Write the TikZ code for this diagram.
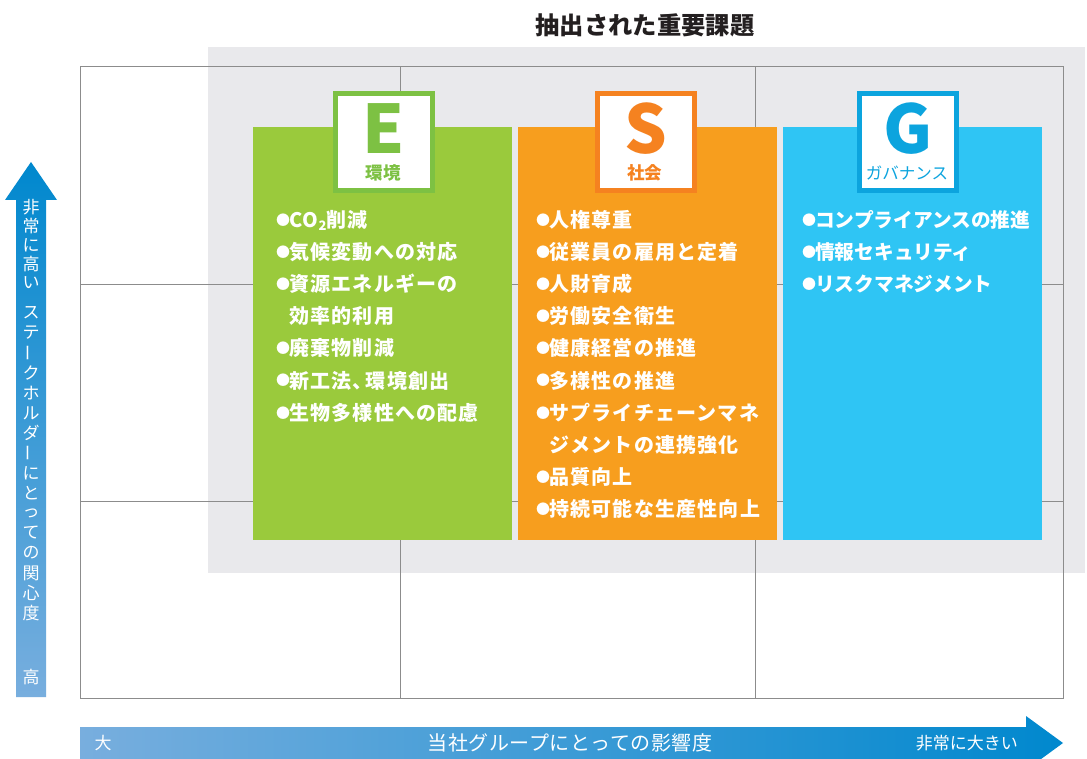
\documentclass[tikz,border=0pt]{standalone}
\usepackage{fontspec}
\setmainfont{Noto Sans CJK JP}
\newfontfamily\listf{Noto Sans CJK JP}[LetterSpace=6]
\newfontfamily\listg{Noto Sans CJK JP}
\newfontfamily\midf{Noto Sans CJK JP}[LetterSpace=3]
\definecolor{egreen}{HTML}{9ACA3C}
\definecolor{egreenb}{HTML}{7DC143}
\definecolor{sorange}{HTML}{F79E1E}
\definecolor{sorangeb}{HTML}{F58220}
\definecolor{gblue}{HTML}{2FC5F4}
\definecolor{gblueb}{HTML}{0CA4DE}
\definecolor{bggray}{HTML}{E9E9EC}
\definecolor{gridgray}{HTML}{8C8C8C}
\definecolor{arrdark}{HTML}{0088CE}
\definecolor{arrlight}{HTML}{78AEDE}
\definecolor{titlec}{HTML}{231F20}
\newcommand\bul{\makebox[12pt][c]{\fontsize{14}{14}\selectfont\raisebox{2pt}{●}}}
\newcommand\cont{\hspace*{12pt}}
\tikzset{
  panel/.style={inner sep=0pt, minimum width=259pt, minimum height=413pt},
  hdrbox/.style={fill=white, line width=5pt, inner sep=0pt, minimum size=97pt},
  bigletter/.style={inner sep=0pt, font=\bfseries\fontsize{67}{67}\selectfont},
  hdrlabel/.style={inner sep=0pt, font=\bfseries\fontsize{17.5}{17.5}\selectfont},
  listitem/.style={inner sep=0pt, anchor=base west, text=white, font=\listf\bfseries\fontsize{20}{20}\selectfont},
  listitemg/.style={inner sep=0pt, anchor=base west, text=white, font=\listg\bfseries\fontsize{19.7}{19.7}\selectfont},
  gridline/.style={draw=gridgray, line width=1pt},
  vchar/.style={inner sep=0pt, text=white, font=\fontsize{17}{17}\selectfont},
  hlabel/.style={inner sep=0pt, text=white},
}
\begin{document}
\begin{tikzpicture}[x=1pt,y=-1pt]
\useasboundingbox (0,0) rectangle (1087,759);
\fill[white] (0,0) rectangle (1087,759);
% title
\node[inner sep=0pt, text=titlec, font=\bfseries\fontsize{24.3}{24.3}\selectfont] (title) at (645,25) {抽出された重要課題};
% gray background
\fill[bggray] (208,47) rectangle (1085,573);
% grid
\coordinate (g00) at (80,67);
\coordinate (g11) at (1063,698);
\draw[gridline] (g00) rectangle (g11);
\draw[gridline] (400,67) -- (400,698);
\draw[gridline] (755,67) -- (755,698);
\draw[gridline] (80,285) -- (1063,285);
\draw[gridline] (80,501) -- (1063,501);
% panels
\node[panel, fill=egreen] (Ep) at (382.5,333.5) {};
\node[panel, fill=sorange] (Sp) at (647.5,333.5) {};
\node[panel, fill=gblue] (Gp) at (912,333.5) {};
% header boxes
\node[hdrbox, draw=egreenb] (Eh) at (384,142) {};
\node[hdrbox, draw=sorangeb] (Sh) at (645.5,142) {};
\node[hdrbox, draw=gblueb] (Gh) at (908,142) {};
\node[bigletter, text=egreenb] (El) at (384,128.5) {E};
\node[bigletter, text=sorangeb] (Sl) at (645.5,128.5) {S};
\node[bigletter, text=gblueb] (Gl) at (908,128.5) {G};
\node[hdrlabel, text=egreenb] (Et) at (383,173) {環境};
\node[hdrlabel, text=sorangeb] (St) at (644.5,173) {社会};
\node[hdrlabel, text=gblueb, font=\fontsize{16.5}{16.5}\selectfont] (Gt) at (907,173) {ガバナンス};
% lists
\foreach \t [count=\i from 0] in {{\bul CO\raisebox{-3pt}{\fontsize{13}{13}\selectfont 2}削減},{\bul 気候変動への対応},{\bul 資源エネルギーの},{\cont 効率的利用},{\bul 廃棄物削減},{\bul 新工法、\hspace{-7pt}環境創出},{\bul 生物多様性への配慮}}
  \node[listitem] (E\i) at (277,227.5+32.1*\i) {\t};
\foreach \t [count=\i from 0] in {{\bul 人権尊重},{\bul 従業員の雇用と定着},{\bul 人財育成},{\bul 労働安全衛生},{\bul 健康経営の推進},{\bul 多様性の推進},{\bul サプライチェーンマネ},{\cont ジメントの連携強化},{\bul 品質向上},{\bul 持続可能な生産性向上}}
  \node[listitem] (S\i) at (537,227.5+32.1*\i) {\t};
\foreach \t [count=\i from 0] in {{\bul コンプライアンスの推進},{\bul 情報セキュリティ},{\bul リスクマネジメント}}
  \node[listitemg] (G\i) at (803,227.5+32.1*\i) {\t};
% vertical arrow
\shade[top color=arrdark, bottom color=arrlight] (16,697) -- (16,200) -- (5,200) -- (31,162) -- (57,200) -- (46,200) -- (46,697) -- cycle;
\foreach \c/\yy [count=\i] in {非/207, 常/226, に/245, 高/264, い/283, ス/313, テ/333, ク/373, ホ/393, ル/413, ダ/433, に/473, と/493, っ/513, て/533, の/553, 関/573, 心/593, 度/613, 高/677}
  \node[vchar] (v\i) at (31,\yy) {\c};
\node[vchar, rotate=90] (vb1) at (31,353) {ー};
\node[vchar, rotate=90] (vb2) at (31,453) {ー};
% horizontal arrow
\shade[left color=arrlight, right color=arrdark] (80,727) -- (1026,727) -- (1026,716) -- (1063,743) -- (1026,770) -- (1026,759) -- (80,759) -- cycle;
\node[hlabel, font=\fontsize{17}{17}\selectfont] (hl) at (103,743) {大};
\node[hlabel, font=\midf\fontsize{20}{20}\selectfont] (hm) at (570,743) {当社グループにとっての影響度};
\node[hlabel, anchor=east, font=\fontsize{17}{17}\selectfont] (hr) at (1018,743) {非常に大きい};
\end{tikzpicture}
\end{document}
